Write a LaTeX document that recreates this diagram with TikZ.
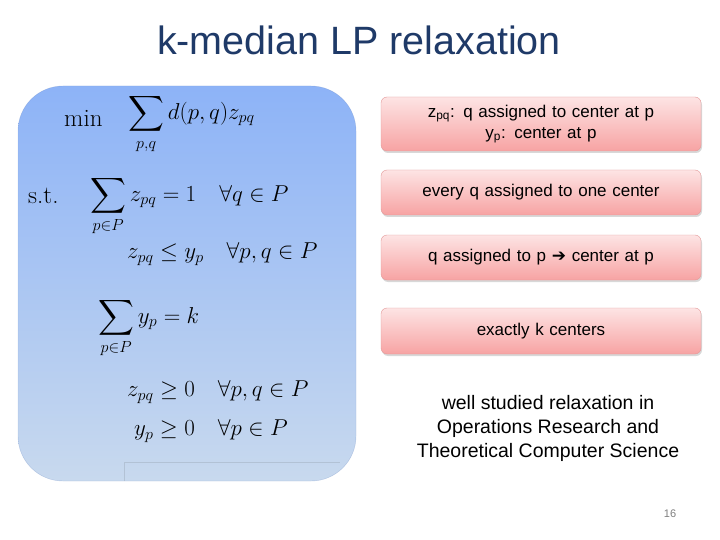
\documentclass[tikz,border=0pt]{standalone}
\usepackage{fix-cm}
\usepackage{amsmath}
\usepackage{fontspec}
\setsansfont{Liberation Sans}
\usetikzlibrary{shadows}
\definecolor{panT}{HTML}{8DB3F7}
\definecolor{panB}{HTML}{C8D9EE}
\definecolor{pinkT}{HTML}{FDE4E4}
\definecolor{pinkB}{HTML}{F7A3A3}
\definecolor{pinkD}{HTML}{E39A9A}
\definecolor{titleC}{HTML}{1F3A68}
\tikzset{
 pbox/.style={draw=pinkD,rounded corners=6pt,top color=pinkT,bottom color=pinkB,minimum width=320pt,text width=310pt,align=center,font=\sffamily\fontsize{17}{21}\selectfont,drop shadow={shadow xshift=1pt,shadow yshift=-2pt,opacity=0.3}},
 mth/.style={anchor=west,inner sep=0pt,font=\fontsize{23}{28}\selectfont},
 txt/.style={font=\sffamily\fontsize{19.5}{24}\selectfont,align=center}
}
\begin{document}
\begin{tikzpicture}[x=1pt,y=-1pt]
\useasboundingbox (0,0) rectangle (720,540);
\fill[white] (0,0) rectangle (720,540);
\node[font=\sffamily\fontsize{39.5}{42}\selectfont,text=titleC] (title) at (359,40) {k-median LP relaxation};
\shade[top color=panT,bottom color=panB,rounded corners=45pt,draw=panT!80!black,draw opacity=0.4] (18,86) rectangle (356,481);
\draw[panB!80!black,opacity=0.5] (124,481) -- (124,462) -- (340,462);
\node[mth,font=\fontsize{25}{28}\selectfont] (m1) at (64,118) {min};
\node[mth] (m2) at (128,124) {$\displaystyle\sum_{p,q} d(p,q) z_{pq}$};
\node[mth,font=\fontsize{25}{28}\selectfont] (m3) at (28,196) {s.t.};
\node[mth] (m4) at (90,206) {$\displaystyle\sum_{p\in P} z_{pq} = 1\quad \forall q\in P$};
\node[mth] (m5) at (127,254) {$z_{pq} \le y_p\quad \forall p,q\in P$};
\node[mth] (m6) at (98,328) {$\displaystyle\sum_{p\in P} y_p = k$};
\node[mth] (m7) at (127,392) {$z_{pq} \ge 0\quad \forall p,q\in P$};
\node[mth] (m8) at (134,431) {$y_p \ge 0\quad \forall p\in P$};
\node[pbox,minimum height=54pt] (b1) at (541,124) {z\textsubscript{pq}: q assigned to center at p\\y\textsubscript{p}: center at p};
\node[pbox,minimum height=45pt] (b2) at (541,192.5) {every q assigned to one center};
\node[pbox,minimum height=45pt] (b3) at (541,257.5) {q assigned to p {\fontspec{DejaVu Sans}\bfseries ➔} center at p};
\node[pbox,minimum height=46pt] (b4) at (541,331) {exactly k centers};
\node[txt] (t) at (548,428) {well studied relaxation in\\Operations Research and\\Theoretical Computer Science};
\node[font=\sffamily\fontsize{11}{13}\selectfont,text=gray] (pg) at (670,514) {16};
\end{tikzpicture}
\end{document}
